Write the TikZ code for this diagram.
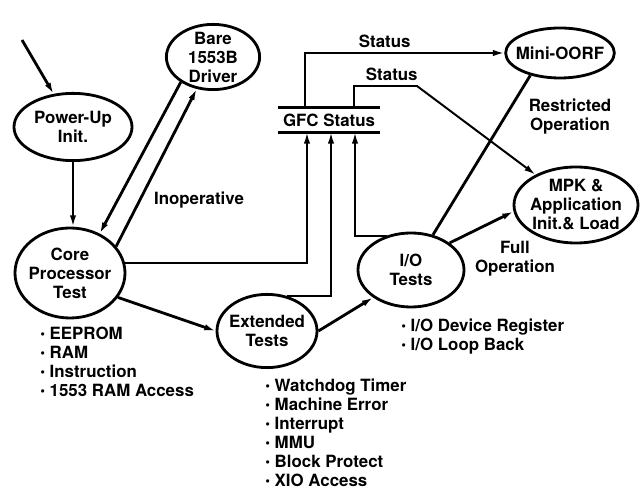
\documentclass[tikz,border=0pt]{standalone}
\usepackage{fontspec}
\setmainfont{TeX Gyre Heros}
\usepackage{tikz}
\usetikzlibrary{shapes.geometric, positioning, arrows.meta}

\newcommand{\bul}{\raisebox{0.1ex}{\scalebox{0.8}{\textbullet}}\ }

\begin{document}
\begin{tikzpicture}[x=0.025cm, y=-0.025cm,
		font=\bfseries\fontsize{12}{13.5}\selectfont,
		stage/.style={ellipse, draw, line width=2pt, inner sep=-4pt, align=center},
		heavy/.style={line width=2pt},
		light/.style={line width=1.4pt},
		tip/.style={-{Latex[length=8pt, width=4.5pt]}},
		items/.style={anchor=north west, inner sep=0pt, align=left}]
	\useasboundingbox (0,0) rectangle (640,490);

	\node[stage, minimum width=2.95cm, minimum height=1.68cm] (pwr) at (73,127) {Power-Up\\Init.};
	\node[stage, minimum width=2.33cm, minimum height=1.63cm] (bare) at (213,57) {Bare\\1553B\\Driver};
	\node[stage, minimum width=2.75cm, minimum height=2.25cm] (core) at (70,273) {Core\\Processor\\Test};
	\node[stage, minimum width=2.5cm, minimum height=1.83cm] (ext) at (267,331) {Extended\\Tests};
	\node[stage, minimum width=2.65cm, minimum height=1.85cm] (io) at (411,270) {I/O\\Tests};
	\node[stage, minimum width=2.65cm, minimum height=1.25cm] (oorf) at (560,53) {Mini-OORF};
	\node[stage, minimum width=3.1cm, minimum height=1.9cm] (mpk) at (576,205) {MPK \&\\Application\\Init.\& Load};

	% status register
	\node[minimum width=2.55cm, minimum height=0.6cm, inner sep=0pt] (gfc) at (329,120) {GFC Status};
	\draw[heavy] (gfc.north west) -- (gfc.north east);
	\draw[heavy] (gfc.south west) -- (gfc.south east);

	\coordinate (start) at (22,40);
	\coordinate (knee) at (417,86);

	\draw[heavy, tip] (start) -- (pwr);
	\draw[light, tip] (pwr.south) -- (pwr.south |- core.north);
	\draw[heavy, tip] (bare.218) -- (core.53);
	\draw[heavy, tip] (core.30) -- (bare.243);
	\draw[heavy, tip] (core.-27) -- (ext.west);
	\draw[heavy, tip] (ext.east) -- (io.216);
	\draw[heavy, tip] (io.35) -- (mpk.186);
	\draw[heavy] (io.58) -- (oorf.217);

	\draw[light, tip] (core.10) -| ([xshift=-0.55cm]gfc.south);
	\draw[light, tip] (ext.60) -| ([xshift=0.05cm]gfc.south);
	\draw[light, tip] (io.125) -| ([xshift=0.65cm]gfc.south);
	\draw[light, tip] ([xshift=-0.6cm]gfc.north) |- (oorf.west) node[pos=0.7, above] {Status};
	\draw[light, tip] ([xshift=0.625cm]gfc.north) |- (knee) node[pos=0.8, above] {Status} -- (mpk);

	\node (inop) at (199,200) {Inoperative};
	\node[align=center] (restr) at (570,117) {Restricted\\Operation};
	\node[align=center] (full) at (515,259) {Full\\Operation};

	\node[items] (corelist) at (40,327) {\bul EEPROM\\\bul RAM\\\bul Instruction\\\bul 1553 RAM Access};
	\node[items] (extlist) at (265,379) {\bul Watchdog Timer\\\bul Machine Error\\\bul Interrupt\\\bul MMU\\\bul Block Protect\\\bul XIO Access};
	\node[items] (iolist) at (401,319) {\bul I/O Device Register\\\bul I/O Loop Back};
\end{tikzpicture}
\end{document}
